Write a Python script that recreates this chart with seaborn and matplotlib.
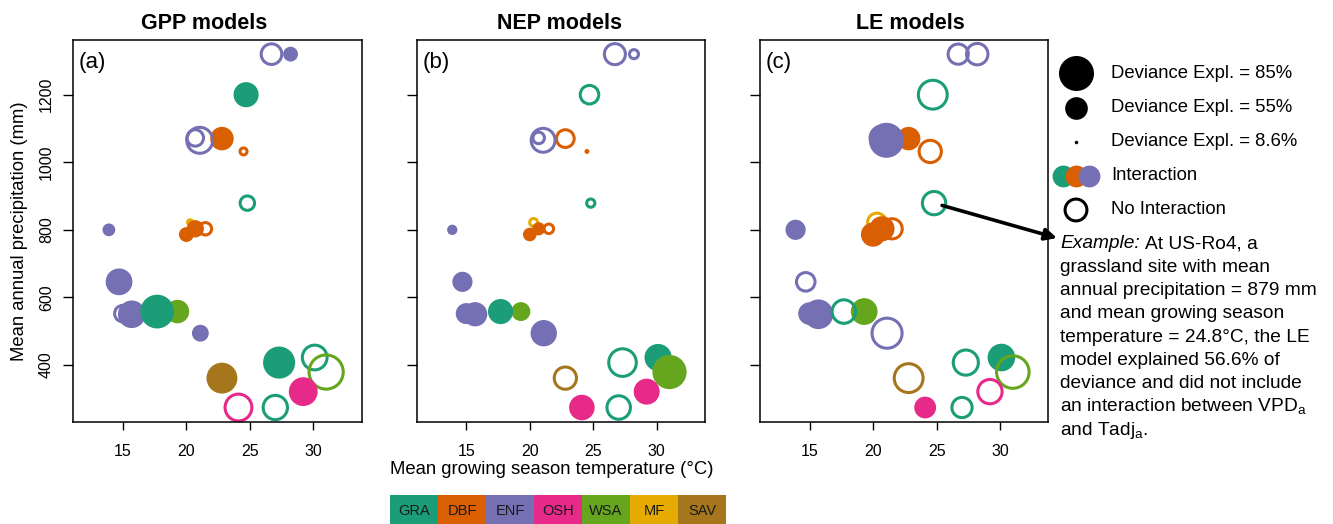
import numpy as np
import pandas as pd
import matplotlib
matplotlib.use("Agg")
import matplotlib.pyplot as plt
import seaborn as sns

sns.set_theme(style="white", rc={
    "text.color": "black", "axes.labelcolor": "black",
    "xtick.color": "black", "ytick.color": "black",
    "axes.edgecolor": "black",
})
plt.rcParams["font.family"] = ["Liberation Sans", "DejaVu Sans"]

# ---------------- data ----------------
site_type = ["ENF", "ENF", "GRA", "DBF", "DBF", "ENF", "ENF", "GRA", "ENF", "MF",
             "DBF", "DBF", "DBF", "ENF", "ENF", "ENF", "WSA", "GRA", "ENF", "GRA",
             "GRA", "WSA", "SAV", "OSH", "OSH", "GRA"]
temp = [26.7, 28.2, 24.7, 22.8, 24.5, 20.7, 21.05, 24.8, 13.9, 20.3,
        20.0, 20.7, 21.5, 14.7, 15.0, 15.7, 19.3, 17.7, 21.1, 27.3,
        30.1, 31.0, 22.8, 29.2, 24.1, 27.0]
precip = [1320, 1320, 1200, 1070, 1032, 1072, 1065, 879, 800, 822,
          786, 803, 803, 646, 552, 550, 558, 558, 494, 407,
          422, 379, 361, 321, 274, 274]

gpp_dev = [50, 36, 61, 57, 17, 40, 63, 35, 31, 20,
           36, 42, 30, 65, 40, 67, 57, 82, 41, 78,
           60, 83, 75, 70, 65, 59]
gpp_inter = [0, 1, 1, 1, 0, 0, 0, 0, 1, 1,
             1, 1, 0, 1, 0, 1, 1, 1, 1, 1,
             0, 0, 1, 1, 0, 0]

nep_dev = [51, 22, 45, 43, 12, 28, 58, 20, 25, 19,
           33, 32, 23, 49, 51, 59, 46, 61, 64, 67,
           66, 83, 54, 63, 62, 57]
nep_inter = [0, 0, 0, 0, 1, 0, 0, 0, 1, 0,
             1, 1, 0, 1, 1, 1, 1, 1, 1, 0,
             1, 1, 0, 1, 1, 0]

le_dev = [49, 52, 70, 57, 54, 65, 85, 56.6, 49, 45,
          59, 61, 49, 45, 55, 72, 65, 57, 73, 61,
          67, 79, 70, 59, 53, 49]
le_inter = [0, 0, 0, 1, 0, 1, 1, 0, 1, 0,
            1, 1, 0, 0, 1, 1, 1, 0, 0, 0,
            1, 0, 0, 0, 1, 0]

veg_types = ["GRA", "DBF", "ENF", "OSH", "WSA", "MF", "SAV"]
veg_colors = ["#1B9E77", "#D95F02", "#7570B3", "#E7298A", "#66A61E", "#E6AB02", "#A6761D"]
legend_dev = [85, 55, 8.6]

panel_titles = ["GPP models", "NEP models", "LE models"]
panel_letters = ["(a)", "(b)", "(c)"]
x_ticks = [15, 20, 25, 30]
y_ticks = [400, 600, 800, 1000, 1200]

# ---------------- layout ----------------
W, H = 1333, 524
fig = plt.figure(figsize=(W / 100, H / 100), dpi=100)
palette = dict(zip(veg_types, veg_colors))
PX_PER_DEV = 0.412  # circle diameter (px) per % deviance


def area(dev):
    return (np.asarray(dev, dtype=float) * PX_PER_DEV * 0.72) ** 2


lefts = [73.3, 416.7, 760.0]
title_x = [0.453, 0.494, 0.523]
axes = []
for i, (dev, inter) in enumerate([(gpp_dev, gpp_inter), (nep_dev, nep_inter), (le_dev, le_inter)]):
    ax = fig.add_axes([lefts[i] / W, (H - 421.7) / H, 288.4 / W, 381.4 / H])
    df = pd.DataFrame({"temp": temp, "precip": precip, "type": site_type,
                       "dev": dev, "inter": inter})
    df["area"] = area(df["dev"])
    sns.scatterplot(data=df, x="temp", y="precip", hue="type", palette=palette,
                    size="area", sizes=(0, 1000), size_norm=(0, 1000),
                    legend=False, ax=ax, linewidth=0)
    coll = ax.collections[-1]
    fc = np.array(coll.get_facecolors())
    filled = np.asarray(inter, bool)
    new_fc = fc.copy()
    new_fc[~filled, 3] = 0.0
    new_ec = fc.copy()
    new_ec[filled, 3] = 0.0
    coll.set_facecolors(new_fc)
    coll.set_edgecolors(new_ec)
    coll.set_linewidths(np.where(filled, 0.0, 2.2))

    ax.set_xlim(11.1, 33.8)
    ax.set_ylim(232, 1361)
    ax.set_xticks(x_ticks)
    ax.set_yticks(y_ticks)
    ax.set_xlabel("")
    ax.set_ylabel("")
    for sp in ax.spines.values():
        sp.set_visible(True)
        sp.set_color("black")
        sp.set_linewidth(1.1)
    ax.tick_params(axis="x", bottom=True, direction="out", length=6, width=1.0,
                   labelsize=11.5, pad=10)
    ax.tick_params(axis="y", left=True, direction="out", length=7, width=1.0,
                   labelsize=11.5, pad=7, labelrotation=90)
    for lbl in ax.get_yticklabels():
        lbl.set_va("center")
    if i > 0:
        ax.tick_params(axis="y", labelleft=False)
    ax.set_title(panel_titles[i], fontsize=15.5, fontweight="bold", x=title_x[i], pad=8)
    ax.text(0.02, 0.943, panel_letters[i], transform=ax.transAxes, fontsize=16,
            ha="left", va="center")
    axes.append(ax)

fig.text(19.5 / W, 1 - 231 / H, "Mean annual precipitation (mm)", rotation=90,
         ha="center", va="center", fontsize=13.3)
fig.text(551.7 / W, 1 - 470 / H, "Mean growing season temperature (\u00b0C)",
         ha="center", va="center", fontsize=13.3)

# ---------------- colour key ----------------
ax_cb = fig.add_axes([390 / W, 0, 336 / W, 29 / H])
ax_cb.bar(range(len(veg_types)), [1] * len(veg_types), width=1.0, color=veg_colors, linewidth=0)
ax_cb.set_xlim(-0.5, len(veg_types) - 0.5)
ax_cb.set_ylim(0, 1)
ax_cb.axis("off")
for j, t in enumerate(veg_types):
    ax_cb.text(j, 0.45, t, ha="center", va="center", fontsize=10.5, color="#1a1a1a")

# ---------------- overlay: legend, annotation ----------------
ax_o = fig.add_axes([0, 0, 1, 1], facecolor="none")
ax_o.set_xlim(0, W)
ax_o.set_ylim(H, 0)
ax_o.axis("off")

leg_x = 1076
leg_text_x = 1111
for y, d in zip([73, 108, 142], legend_dev):
    ax_o.scatter([leg_x], [y], s=area(d), c="black", linewidths=0)
    ax_o.text(leg_text_x, y, f"Deviance Expl. = {d:g}%", fontsize=13.3, va="center", ha="left")
for xo, col in zip([1062.5, 1075.5, 1089], veg_colors[:3]):
    ax_o.scatter([xo], [176], s=area(53), c=col, linewidths=0)
ax_o.text(leg_text_x, 176, "Interaction", fontsize=13.3, va="center", ha="left")
ax_o.scatter([leg_x], [210], s=area(53), facecolors="none", edgecolors="black", linewidths=2.2)
ax_o.text(leg_text_x, 210, "No Interaction", fontsize=13.3, va="center", ha="left")

ann_lines = [
    None,
    "grassland site with mean",
    "annual precipitation = 879 mm",
    "and mean growing season",
    "temperature = 24.8\u00b0C, the LE",
    "model explained 56.6% of",
    "deviance and did not include",
    r"an interaction between VPD$_\mathregular{a}$",
    r"and Tadj$_\mathregular{a}$.",
]
base0 = 248.3
step = 23.35
t_ex = ax_o.text(1060, base0, "Example:", fontsize=13.8, style="italic", va="baseline", ha="left")
renderer = fig.canvas.get_renderer()
bb = t_ex.get_window_extent(renderer)
space_px = 0.278 * 13.8 / 72 * 100
ax_o.text(bb.x1 + space_px, base0, "At US-Ro4, a", fontsize=13.8, va="baseline", ha="left")
for k, line in enumerate(ann_lines):
    if line is None:
        continue
    ax_o.text(1060, base0 + k * step, line, fontsize=13.8, va="baseline", ha="left")

# arrow from the US-Ro4 LE point to the example text
ax_c = axes[2]
idx = 7
px = ax_c.transData.transform((temp[idx], precip[idx]))
start = (px[0], H - px[1])
ax_o.annotate("", xy=(1057, 238), xytext=start,
              arrowprops=dict(arrowstyle="-|>,head_length=0.5,head_width=0.25",
                              color="black", lw=2.6, shrinkA=6, shrinkB=0,
                              mutation_scale=14))

fig.savefig("out.png", dpi=100)
